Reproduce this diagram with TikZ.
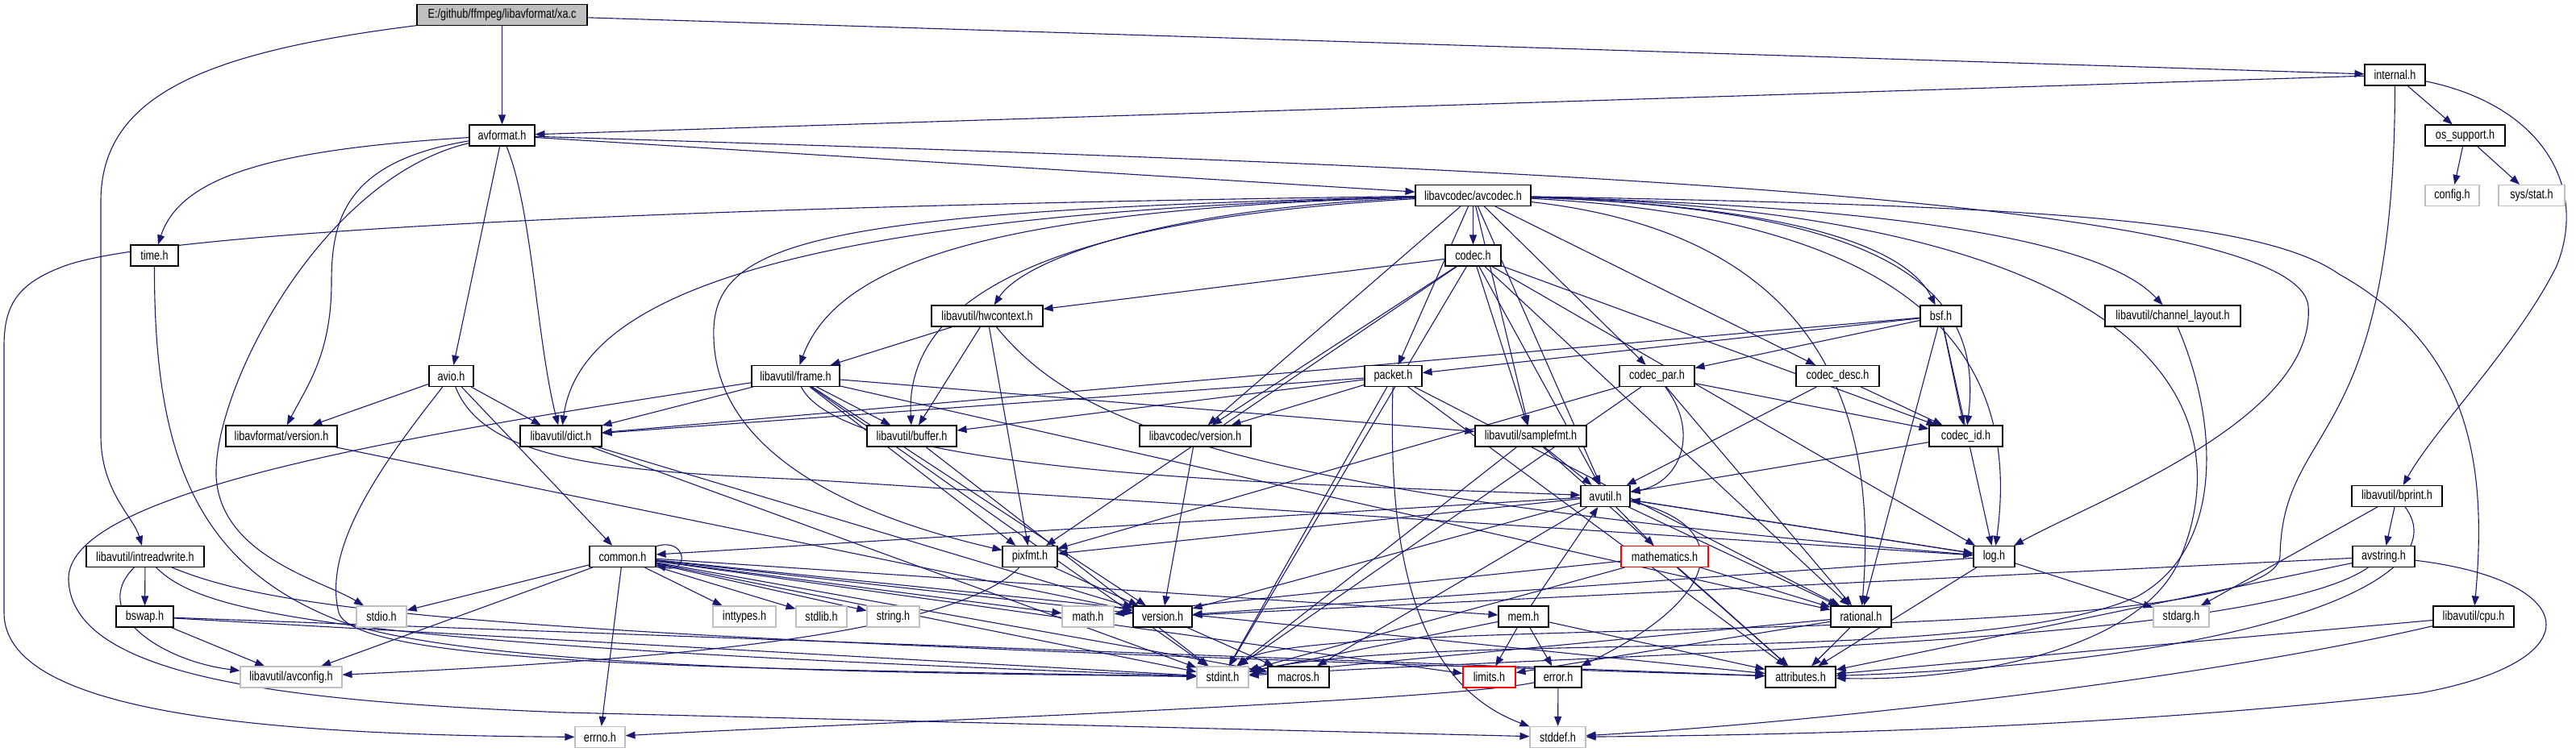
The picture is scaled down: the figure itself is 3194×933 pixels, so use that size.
\documentclass[tikz,border=0pt]{standalone}
\usepackage{fontspec}
\newfontfamily\dfont{Liberation Sans}[FakeStretch=0.79]
\usetikzlibrary{arrows.meta}
\definecolor{edgec}{HTML}{191970}
\definecolor{grayb}{HTML}{BFBFBF}
\pgfdeclarelayer{bg}
\pgfsetlayers{bg,main}
\tikzset{
  box/.style={draw=black, line width=1.1pt, fill=white, inner sep=0pt, minimum height=26pt,
    font=\dfont\fontsize{16}{18}\selectfont},
  sysbox/.style={box, draw=grayb},
  redbox/.style={box, draw=red},
  rootbox/.style={box, fill=grayb},
  e/.style={draw=edgec, line width=1.1pt, -{Triangle[length=12pt,width=9pt]}}
}
\begin{document}
\begin{tikzpicture}[x=1pt,y=-1pt]
\begin{pgfonlayer}{bg}
\fill[white] (0,0) rectangle (3194,933);
\end{pgfonlayer}
\useasboundingbox (0,0) rectangle (3194,933);
% row 0
\node[rootbox, minimum width=211pt] (xa) at (622.5,18.5) {E:/github/ffmpeg/libavformat/xa.c};
% row 1
\node[box, minimum width=75pt] (internal) at (2969.5,93) {internal.h};
% row 2
\node[box, minimum width=81pt] (avformat) at (622.5,168) {avformat.h};
\node[box, minimum width=99pt] (ossupport) at (3056.5,168) {os\_support.h};
% row 3
\node[box, minimum width=143pt] (avcodec) at (1826.5,242.5) {libavcodec/avcodec.h};
\node[sysbox, minimum width=67pt] (config) at (3040.5,242.5) {config.h};
\node[sysbox, minimum width=82pt] (sysstat) at (3139,242.5) {sys/stat.h};
% row 4
\node[box, minimum width=59pt] (time) at (191.5,317) {time.h};
\node[box, minimum width=69pt] (codec) at (1826.5,317) {codec.h};
% row 5
\node[box, minimum width=138pt] (hwcontext) at (1224,392) {libavutil/hwcontext.h};
\node[box, minimum width=51pt] (bsf) at (2406.5,392) {bsf.h};
\node[box, minimum width=168pt] (chlayout) at (2694,392) {libavutil/channel\_layout.h};
% row 6
\node[box, minimum width=55pt] (avio) at (559.5,466.5) {avio.h};
\node[box, minimum width=109pt] (frame) at (986.5,466.5) {libavutil/frame.h};
\node[box, minimum width=71pt] (packet) at (1727.5,466.5) {packet.h};
\node[box, minimum width=93pt] (codecpar) at (2054.5,466.5) {codec\_par.h};
\node[box, minimum width=103pt] (codecdesc) at (2278.5,466.5) {codec\_desc.h};
% row 7
\node[box, minimum width=138pt] (lavfver) at (349,541) {libavformat/version.h};
\node[box, minimum width=101pt] (dict) at (695.5,541) {libavutil/dict.h};
\node[box, minimum width=111pt] (buffer) at (1130.5,541) {libavutil/buffer.h};
\node[box, minimum width=138pt] (lavcver) at (1482,541) {libavcodec/version.h};
\node[box, minimum width=138pt] (samplefmt) at (1898,541) {libavutil/samplefmt.h};
\node[box, minimum width=91pt] (codecid) at (2437.5,541) {codec\_id.h};
% row 8
\node[box, minimum width=61pt] (avutil) at (1990.5,615.5) {avutil.h};
\node[box, minimum width=112pt] (bprint) at (2972,615.5) {libavutil/bprint.h};
% row 9
\node[box, minimum width=146pt] (intreadwrite) at (180,690.5) {libavutil/intreadwrite.h};
\node[box, minimum width=82pt] (common) at (772,690.5) {common.h};
\node[box, minimum width=68pt] (pixfmt) at (1277,690.5) {pixfmt.h};
\node[redbox, minimum width=108pt] (mathematics) at (2064,690.5) {mathematics.h};
\node[box, minimum width=51pt] (log) at (2472.5,690.5) {log.h};
\node[box, minimum width=77pt] (avstring) at (2955.5,690.5) {avstring.h};
% row 10
\node[box, minimum width=71pt] (bswap) at (179.5,765) {bswap.h};
\node[sysbox, minimum width=62pt] (stdio) at (473,765) {stdio.h};
\node[sysbox, minimum width=78pt] (inttypes) at (923,765) {inttypes.h};
\node[sysbox, minimum width=63pt] (stdlib) at (1018.5,765) {stdlib.h};
\node[sysbox, minimum width=65pt] (string) at (1107.5,765) {string.h};
\node[sysbox, minimum width=64pt] (math) at (1349,765) {math.h};
\node[box, minimum width=73pt] (version) at (1441.5,765) {version.h};
\node[box, minimum width=62pt] (mem) at (1889,765) {mem.h};
\node[box, minimum width=75pt] (rational) at (2307.5,765) {rational.h};
\node[sysbox, minimum width=69pt] (stdarg) at (2704.5,765) {stdarg.h};
\node[box, minimum width=100pt] (cpu) at (3067,765) {libavutil/cpu.h};
% row 11
\node[sysbox, minimum width=126pt] (avconfig) at (361,840) {libavutil/avconfig.h};
\node[sysbox, minimum width=64pt] (stdint) at (1516,840) {stdint.h};
\node[box, minimum width=76pt] (macros) at (1610,840) {macros.h};
\node[redbox, minimum width=65pt] (limits) at (1846.5,840) {limits.h};
\node[box, minimum width=58pt] (error) at (1932,840) {error.h};
\node[box, minimum width=87pt] (attributes) at (2232.5,840) {attributes.h};
% row 12
\node[sysbox, minimum width=62pt] (errno) at (744,914.5) {errno.h};
\node[sysbox, minimum width=69pt] (stddef) at (1931.5,914.5) {stddef.h};

\begin{pgfonlayer}{bg}
% xa.c
\draw[e] (xa) -- (avformat);
\draw[e] (xa) -- (internal);
\draw[e] (xa) .. controls (250,65) and (125,120) .. (125,250) -- (125,540) .. controls (125,610) and (165,640) .. (intreadwrite);
% internal
\draw[e] (internal) -- (avformat);
\draw[e] (internal) -- (ossupport);
\draw[e] (internal) .. controls (2969,560) and (2830,520) .. (2827,690) .. controls (2822,810) and (1620,760) .. (stdint);
\draw[e] (internal) .. controls (3150,130) and (3210,230) .. (3170,330) .. controls (3120,430) and (3020,530) .. (bprint);
% os_support
\draw[e] (ossupport) -- (config);
\draw[e] (ossupport) -- (sysstat);
% avformat
\draw[e] (avformat) .. controls (350,185) and (225,215) .. (time);
\draw[e] (avformat) .. controls (400,220) and (265,480) .. (268,590) .. controls (272,690) and (400,720) .. (stdio);
\draw[e] (avformat) -- (avcodec);
\draw[e] (avformat) .. controls (660,260) and (665,420) .. (dict);
\draw[e] (avformat) .. controls (1800,205) and (2850,240) .. (2862,380) .. controls (2872,520) and (2600,620) .. (log);
\draw[e] (avformat) -- (avio);
\draw[e] (avformat) .. controls (430,200) and (411,270) .. (411,350) .. controls (411,440) and (380,480) .. (lavfver);
% avio
\draw[e] (avio) -- (lavfver);
\draw[e] (avio) -- (dict);
\draw[e] (avio) -- (common);
\draw[e] (avio) .. controls (600,570) and (750,585) .. (1000,595) -- (log);
\draw[e] (avio) .. controls (470,580) and (400,680) .. (420,760) .. controls (440,830) and (1000,830) .. (stdint);
% avcodec
\draw[e] (avcodec) .. controls (900,255) and (200,285) .. (80,330) .. controls (20,352) and (5,380) .. (5,430) -- (5,760) .. controls (5,880) and (300,912) .. (errno);
\draw[e] (avcodec) -- (samplefmt);
\draw[e] (avcodec) .. controls (2700,265) and (2780,520) .. (2700,700) .. controls (2640,820) and (2400,845) .. (attributes);
\draw[e] (avcodec) -- (avutil);
\draw[e] (avcodec) .. controls (1350,270) and (1121,350) .. (buffer);
\draw[e] (avcodec) .. controls (2500,255) and (2800,270) .. (2900,340) .. controls (3060,430) and (3085,570) .. (cpu);
\draw[e] (avcodec) .. controls (2300,255) and (2600,290) .. (chlayout);
\draw[e] (avcodec) .. controls (1000,265) and (720,360) .. (dict);
\draw[e] (avcodec) .. controls (1250,260) and (1040,320) .. (frame);
\draw[e] (avcodec) .. controls (1450,258) and (1270,320) .. (hwcontext);
\draw[e] (avcodec) .. controls (2350,270) and (2510,420) .. (log);
\draw[e] (avcodec) .. controls (1000,262) and (880,300) .. (885,420) .. controls (890,580) and (1100,650) .. (pixfmt);
\draw[e] (avcodec) .. controls (2250,290) and (2330,500) .. (rational);
\draw[e] (avcodec) .. controls (2200,255) and (2360,300) .. (bsf);
\draw[e] (avcodec) -- (codec);
\draw[e] (avcodec) -- (codecdesc);
\draw[e] (avcodec) -- (codecpar);
\draw[e] (avcodec) .. controls (2350,260) and (2460,360) .. (codecid);
\draw[e] (avcodec) -- (packet);
\draw[e] (avcodec) -- (lavcver);
% codec
\draw[e] (codec) -- (stdint);
\draw[e] (codec) -- (avutil);
\draw[e] (codec) -- (hwcontext);
\draw[e] (codec) -- (log);
\draw[e] (codec) -- (pixfmt);
\draw[e] (codec) -- (rational);
\draw[e] (codec) -- (samplefmt);
\draw[e] (codec) -- (codecid);
\draw[e] (codec) -- (lavcver);
% codec_desc, codec_id
\draw[e] (codecdesc) -- (avutil);
\draw[e] (codecdesc) -- (codecid);
\draw[e] (codecid) -- (avutil);
% codec_par
\draw[e] (codecpar) -- (stdint);
\draw[e] (codecpar) .. controls (2110,540) and (2080,600) .. (avutil);
\draw[e] (codecpar) -- (rational);
\draw[e] (codecpar) -- (pixfmt);
\draw[e] (codecpar) -- (codecid);
% packet
\draw[e] (packet) .. controls (1720,700) and (1760,850) .. (stddef);
\draw[e] (packet) -- (stdint);
\draw[e] (packet) -- (attributes);
\draw[e] (packet) -- (buffer);
\draw[e] (packet) -- (dict);
\draw[e] (packet) -- (rational);
\draw[e] (packet) -- (lavcver);
% bsf
\draw[e] (bsf) -- (dict);
\draw[e] (bsf) -- (log);
\draw[e] (bsf) -- (rational);
\draw[e] (bsf) -- (codecid);
\draw[e] (bsf) -- (codecpar);
\draw[e] (bsf) -- (packet);
% hwcontext
\draw[e] (hwcontext) -- (buffer);
\draw[e] (hwcontext) -- (frame);
\draw[e] (hwcontext) .. controls (1330,520) and (1500,610) .. (log);
\draw[e] (hwcontext) -- (pixfmt);
% frame
\draw[e] (frame) .. controls (500,540) and (80,610) .. (85,720) .. controls (90,840) and (350,870) .. (700,884) -- (stddef);
\draw[e] (frame) -- (stdint);
\draw[e] (frame) .. controls (1050,590) and (1600,600) .. (avutil);
\draw[e] (frame) -- (buffer);
\draw[e] (frame) -- (dict);
\draw[e] (frame) -- (rational);
\draw[e] (frame) -- (samplefmt);
\draw[e] (frame) -- (pixfmt);
\draw[e] (frame) -- (version);
% dict, buffer, versions
\draw[e] (dict) -- (stdint);
\draw[e] (dict) -- (version);
\draw[e] (buffer) -- (stdint);
\draw[e] (lavcver) -- (version);
\draw[e] (lavfver) -- (version);
% samplefmt
\draw[e] (samplefmt) -- (stdint);
\draw[e] (samplefmt) -- (avutil);
\draw[e] (samplefmt) -- (attributes);
% avutil
\draw[e] (avutil) -- (common);
\draw[e] (avutil) .. controls (2150,650) and (2140,740) .. (error);
\draw[e] (avutil) -- (rational);
\draw[e] (avutil) -- (version);
\draw[e] (avutil) -- (macros);
\draw[e] (avutil) -- (mathematics);
\draw[e] (avutil) -- (log);
\draw[e] (avutil) -- (pixfmt);
% mem
\draw[e] (mem) -- (limits);
\draw[e] (mem) -- (stdint);
\draw[e] (mem) -- (attributes);
\draw[e] (mem) -- (error);
\draw[e] (mem) -- (avutil);
% common
\draw[e] (common) -- (errno);
\draw[e] (common) -- (inttypes);
\draw[e] (common) -- (limits);
\draw[e] (common) -- (math);
\draw[e] (common) -- (stdint);
\draw[e] (common) -- (stdio);
\draw[e] (common) -- (stdlib);
\draw[e] (common) -- (string);
\draw[e] (common) -- (attributes);
\draw[e] (common) -- (macros);
\draw[e] (common) -- (version);
\draw[e] (common) -- (avconfig);
\draw[e] (common) -- (mem);
\draw[e] (common) .. controls (852,666) and (855,712) .. (common);
% mathematics
\draw[e] (mathematics) -- (math);
\draw[e] (mathematics) -- (stdint);
\draw[e] (mathematics) -- (attributes);
\draw[e] (mathematics) -- (rational);
% rational
\draw[e] (rational) -- (stdint);
\draw[e] (rational) -- (limits);
\draw[e] (rational) -- (attributes);
% error
\draw[e] (error) .. controls (1800,870) and (1000,900) .. (errno);
\draw[e] (error) -- (stddef);
% log
\draw[e] (log) -- (stdarg);
\draw[e] (log) -- (avutil);
\draw[e] (log) -- (attributes);
\draw[e] (log) -- (version);
% pixfmt, version
\draw[e] (pixfmt) .. controls (1180,790) and (800,820) .. (avconfig);
\draw[e] (pixfmt) -- (version);
\draw[e] (version) -- (macros);
% cpu
\draw[e] (cpu) .. controls (2700,850) and (2200,900) .. (stddef);
\draw[e] (cpu) -- (attributes);
% channel_layout
\draw[e] (chlayout) .. controls (2750,520) and (2760,680) .. (2650,740) .. controls (2450,830) and (1800,780) .. (stdint);
% intreadwrite
\draw[e] (intreadwrite) -- (bswap);
\draw[e] (intreadwrite) .. controls (110,760) and (200,820) .. (avconfig);
\draw[e] (intreadwrite) .. controls (250,760) and (400,800) .. (stdint);
\draw[e] (intreadwrite) .. controls (350,760) and (600,790) .. (attributes);
% bswap
\draw[e] (bswap) -- (avconfig);
\draw[e] (bswap) -- (stdint);
\draw[e] (bswap) -- (attributes);
% time
\draw[e] (time) .. controls (191,560) and (240,700) .. (420,770) .. controls (600,835) and (1200,835) .. (stdint);
% bprint
\draw[e] (bprint) -- (stdarg);
\draw[e] (bprint) .. controls (3050,720) and (2800,820) .. (attributes);
\draw[e] (bprint) -- (avstring);
% avstring
\draw[e] (avstring) .. controls (3200,720) and (3220,820) .. (3000,860) .. controls (2600,905) and (2200,912) .. (stddef);
\draw[e] (avstring) .. controls (2800,800) and (2000,810) .. (stdint);
\draw[e] (avstring) -- (attributes);
\draw[e] (avstring) -- (version);
\end{pgfonlayer}
\end{tikzpicture}
\end{document}
